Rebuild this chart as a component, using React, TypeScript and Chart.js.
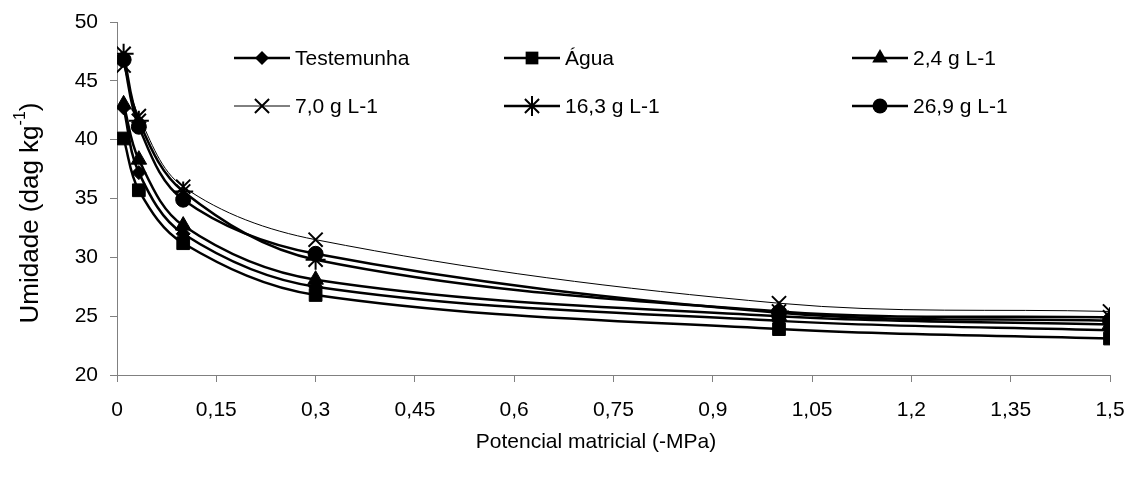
import React, { useEffect, useRef } from 'react';
import { Chart, registerables } from 'chart.js';

Chart.register(...registerables);

// Potencial matricial (-MPa)
const xValues = [0.01, 0.033, 0.1, 0.3, 1.0, 1.5];

// Umidade (dag kg-1)
const testemunha = [42.7, 37.2, 32.0, 27.5, 24.6, 23.8];
const agua = [40.1, 35.7, 31.2, 26.8, 23.9, 23.1];
const g24 = [43.0, 38.3, 32.7, 28.1, 25.0, 24.3];
const g70 = [46.3, 42.0, 36.0, 31.5, 26.1, 25.4];
const g163 = [47.3, 41.6, 35.6, 29.8, 25.4, 24.9];
const g269 = [46.8, 41.1, 34.9, 30.3, 25.3, 24.6];

const seriesNames = ['Testemunha', 'Água', '2,4 g L-1', '7,0 g L-1', '16,3 g L-1', '26,9 g L-1'];
const seriesValues = [testemunha, agua, g24, g70, g163, g269];
const seriesMarkers = ['rectRot', 'rect', 'triangle', 'crossRot', 'star', 'circle'];
const seriesRadius = [7, 9, 9, 10, 10, 7.5];
const seriesLineWidth = [2.5, 2.5, 2.5, 1, 2.5, 2.5];

const xTicks = [0, 0.15, 0.3, 0.45, 0.6, 0.75, 0.9, 1.05, 1.2, 1.35, 1.5];
const yTicks = [20, 25, 30, 35, 40, 45, 50];

const xTitle = 'Potencial matricial (-MPa)';
const yTitleMain = 'Umidade (dag kg';
const yTitleSup = '-1';
const yTitleEnd = ')';

const FONT = '"Liberation Sans", Arial, sans-serif';

function drawMarker(ctx: CanvasRenderingContext2D, style: string, x: number, y: number, r: number) {
  ctx.save();
  ctx.fillStyle = '#000';
  ctx.strokeStyle = '#000';
  ctx.lineWidth = 2;
  ctx.beginPath();
  if (style === 'rectRot') {
    ctx.moveTo(x - r, y);
    ctx.lineTo(x, y - r);
    ctx.lineTo(x + r, y);
    ctx.lineTo(x, y + r);
    ctx.closePath();
    ctx.fill();
  } else if (style === 'rect') {
    const s = r * Math.SQRT1_2;
    ctx.rect(x - s, y - s, 2 * s, 2 * s);
    ctx.fill();
  } else if (style === 'triangle') {
    let a = 0;
    ctx.moveTo(x + Math.sin(a) * r, y - Math.cos(a) * r);
    a += (2 * Math.PI) / 3;
    ctx.lineTo(x + Math.sin(a) * r, y - Math.cos(a) * r);
    a += (2 * Math.PI) / 3;
    ctx.lineTo(x + Math.sin(a) * r, y - Math.cos(a) * r);
    ctx.closePath();
    ctx.fill();
  } else if (style === 'circle') {
    ctx.arc(x, y, r, 0, Math.PI * 2);
    ctx.fill();
  } else if (style === 'crossRot') {
    const d = r * Math.SQRT1_2;
    ctx.moveTo(x - d, y - d);
    ctx.lineTo(x + d, y + d);
    ctx.moveTo(x - d, y + d);
    ctx.lineTo(x + d, y - d);
    ctx.stroke();
  } else if (style === 'star') {
    const d = r * Math.SQRT1_2;
    ctx.moveTo(x - d, y - d);
    ctx.lineTo(x + d, y + d);
    ctx.moveTo(x - d, y + d);
    ctx.lineTo(x + d, y - d);
    ctx.moveTo(x - r, y);
    ctx.lineTo(x + r, y);
    ctx.moveTo(x, y - r);
    ctx.lineTo(x, y + r);
    ctx.stroke();
  }
  ctx.restore();
}

const decorPlugin = {
  id: 'decor',
  afterDraw(chart: any) {
    const ctx: CanvasRenderingContext2D = chart.ctx;
    ctx.save();
    // Legend
    const cols = [234, 504, 852];
    const rows = [58, 106];
    const lineLen = 56;
    ctx.font = `21px ${FONT}`;
    ctx.textBaseline = 'middle';
    ctx.textAlign = 'left';
    ctx.fillStyle = '#000';
    seriesNames.forEach((name, i) => {
      const cx = cols[i % 3];
      const cy = rows[Math.floor(i / 3)];
      ctx.strokeStyle = '#000';
      ctx.lineWidth = seriesLineWidth[i];
      ctx.beginPath();
      ctx.moveTo(cx, cy);
      ctx.lineTo(cx + lineLen, cy);
      ctx.stroke();
      drawMarker(ctx, seriesMarkers[i], cx + lineLen / 2, cy, seriesRadius[i]);
      ctx.fillStyle = '#000';
      ctx.fillText(name, cx + lineLen + 5, cy + 1);
    });
    // X title
    ctx.textAlign = 'center';
    ctx.font = `21px ${FONT}`;
    ctx.fillText(xTitle, 596, 442);
    // Y title (rotated, with superscript)
    ctx.save();
    ctx.translate(31, 213);
    ctx.rotate(-Math.PI / 2);
    ctx.textAlign = 'left';
    ctx.font = `26px ${FONT}`;
    const w1 = ctx.measureText(yTitleMain).width;
    const w3 = ctx.measureText(yTitleEnd).width;
    ctx.font = `16px ${FONT}`;
    const w2 = ctx.measureText(yTitleSup).width;
    const total = w1 + w2 + w3;
    let sx = -total / 2;
    ctx.font = `26px ${FONT}`;
    ctx.fillText(yTitleMain, sx, 0);
    sx += w1;
    ctx.font = `16px ${FONT}`;
    ctx.fillText(yTitleSup, sx, -10);
    sx += w2;
    ctx.font = `26px ${FONT}`;
    ctx.fillText(yTitleEnd, sx, 0);
    ctx.restore();
    ctx.restore();
  },
};

function fmtX(v: number) {
  const s = (Math.round(v * 100) / 100).toString();
  return s.replace('.', ',');
}

export default function App() {
  const canvasRef = useRef<HTMLCanvasElement | null>(null);

  useEffect(() => {
    const canvas = canvasRef.current;
    if (!canvas) return;
    const datasets = seriesNames.map((name, i) => ({
      label: name,
      data: xValues.map((x, j) => ({ x, y: seriesValues[i][j] })),
      borderColor: '#000',
      backgroundColor: '#000',
      borderWidth: seriesLineWidth[i],
      pointStyle: seriesMarkers[i] as any,
      pointRadius: seriesRadius[i],
      pointBorderWidth: seriesMarkers[i] === 'crossRot' || seriesMarkers[i] === 'star' ? 2 : 1,
      pointBackgroundColor: '#000',
      pointBorderColor: '#000',
      tension: 0.35,
      fill: false,
    }));
    const chart = new Chart(canvas, {
      type: 'line',
      data: { datasets },
      options: {
        animation: false,
        responsive: false,
        layout: { padding: { left: 0, right: 28, top: 22, bottom: 0 } },
        plugins: { legend: { display: false }, tooltip: { enabled: false } },
        scales: {
          x: {
            type: 'linear',
            min: 0,
            max: 1.5,
            afterBuildTicks: (s: any) => {
              s.ticks = xTicks.map((v) => ({ value: v }));
            },
            afterFit: (s: any) => {
              s.height = 105;
              s.paddingLeft = 0;
              s.paddingRight = 0;
            },
            ticks: {
              callback: (v: any) => fmtX(Number(v)),
              font: { family: FONT, size: 21 },
              color: '#000',
              padding: 16,
              maxRotation: 0,
              autoSkip: false,
            },
            grid: { drawOnChartArea: false, drawTicks: true, tickLength: 7, color: '#808080' },
            border: { display: true, color: '#808080', width: 1 },
          },
          y: {
            type: 'linear',
            min: 20,
            max: 50,
            afterBuildTicks: (s: any) => {
              s.ticks = yTicks.map((v) => ({ value: v }));
            },
            afterFit: (s: any) => {
              s.width = 117;
              s.paddingTop = 0;
              s.paddingBottom = 0;
            },
            ticks: {
              font: { family: FONT, size: 21 },
              color: '#000',
              padding: 12,
            },
            grid: { drawOnChartArea: false, drawTicks: true, tickLength: 7, color: '#808080' },
            border: { display: true, color: '#808080', width: 1 },
          },
        },
      },
      plugins: [decorPlugin],
    });
    return () => chart.destroy();
  }, []);

  return (
    <div style={{ position: 'absolute', left: 0, top: 0, width: 1138, height: 480, background: '#fff' }}>
      <canvas ref={canvasRef} width={1138} height={480} />
    </div>
  );
}
